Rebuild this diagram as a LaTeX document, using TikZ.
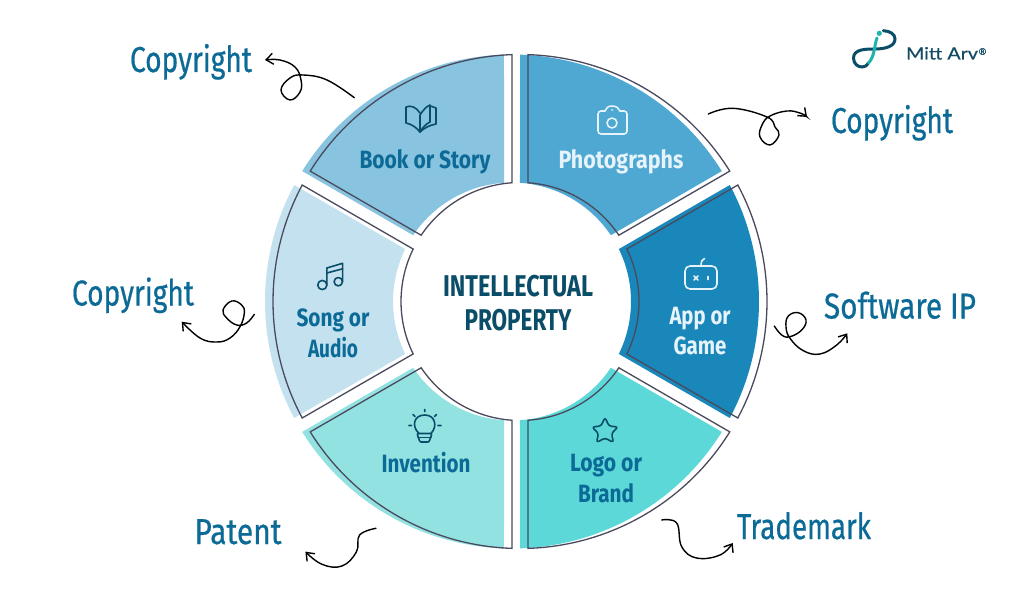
\documentclass[tikz,border=0pt]{standalone}
\usepackage{fontspec}
\usepackage{graphicx}
\usetikzlibrary{arrows.meta}
\setmainfont{Fira Sans}
\newfontfamily\tagfont[FakeBold=0.6]{Fira Sans}
\newfontfamily\logofont[FakeBold=0.5]{Lato}
\definecolor{cBook}{HTML}{88C3DF}
\definecolor{cPhoto}{HTML}{4FA8D2}
\definecolor{cApp}{HTML}{1A87BA}
\definecolor{cLogo}{HTML}{5CD8D8}
\definecolor{cInv}{HTML}{93E2E2}
\definecolor{cSong}{HTML}{C4E1F0}
\definecolor{cEdge}{HTML}{4A4A5E}
\definecolor{cText}{HTML}{0B6A96}
\definecolor{cDark}{HTML}{0A4D68}
\definecolor{cLight}{HTML}{E6F3FA}
\definecolor{cLogoText}{HTML}{124B63}
\definecolor{cTeal}{HTML}{20B5AC}
\newcommand\fw[2]{\resizebox{#1pt}{\height}{#2}}
\newcommand\ringpath[1]{%
  (#1-28.14:247) arc[start angle=#1-28.14,end angle=#1+28.14,radius=247]
  -- (#1+26.15:119) arc[start angle=#1+26.15,end angle=#1-26.15,radius=119] -- cycle}
\tikzset{
  edge/.style={draw=cEdge,line width=1.3pt,line join=miter},
  tag/.style={inner sep=0pt,anchor=base,text=cText,font=\tagfont\fontsize{36}{36}\selectfont},
  lab/.style={inner sep=0pt,anchor=base,font=\bfseries\fontsize{25}{25}\selectfont},
  centre/.style={inner sep=0pt,anchor=base,text=cDark,font=\bfseries\fontsize{30}{30}\selectfont},
  squig/.style={draw=black,line width=1.4pt,line cap=round,-{Straight Barb[length=7pt,width=11pt,line width=1.4pt]}},
  ico/.style={line width=1.6pt,line cap=round,line join=round},
}
\begin{document}
\begin{tikzpicture}[x=1pt,y=-1pt]
\useasboundingbox (0,0) rectangle (1024,602);
\fill[white] (0,0) rectangle (1024,602);
\begin{scope}[shift={(520,301.5)},x=1pt,y=1pt]
  \begin{scope}[xshift=-8pt]
    \fill[cPhoto] \ringpath{60};
    \fill[cApp] \ringpath{0};
    \fill[cLogo] \ringpath{-60};
    \fill[cInv] \ringpath{-120};
    \fill[cSong] \ringpath{180};
    \fill[cBook] \ringpath{120};
  \end{scope}
  \foreach \m in {60,0,-60,-120,180,120}{\draw[edge] \ringpath{\m};}
\end{scope}

% centre
\node[centre] (c1) at (518,296) {\fw{150}{INTELLECTUAL}};
\node[centre] (c2) at (518,330) {\fw{107}{PROPERTY}};

% segment labels
\node[lab,text=cText] (l1) at (425,168.5) {\fw{131}{Book or Story}};
\node[lab,text=cLight] (l2) at (621,168.5) {\fw{125}{Photographs}};
\node[lab,text=cLight] (l3a) at (700,324) {\fw{61}{App or}};
\node[lab,text=cLight] (l3b) at (700,354.5) {\fw{53}{Game}};
\node[lab,text=cText] (l4a) at (606,471.5) {\fw{72}{Logo or}};
\node[lab,text=cText] (l4b) at (606,502) {\fw{56}{Brand}};
\node[lab,text=cText] (l5) at (426,472) {\fw{89}{Invention}};
\node[lab,text=cText] (l6a) at (333,326) {\fw{73}{Song or}};
\node[lab,text=cText] (l6b) at (333,357) {\fw{50}{Audio}};

% outer tags
\node[tag] (t1) at (191,72) {\fw{122}{Copyright}};
\node[tag] (t2) at (892,133) {\fw{122}{Copyright}};
\node[tag] (t3) at (133,305.5) {\fw{122}{Copyright}};
\node[tag] (t4) at (900,318.5) {\fw{152}{Software IP}};
\node[tag] (t5) at (238,544) {\fw{87}{Patent}};
\node[tag] (t6) at (804,539) {\fw{134}{Trademark}};

% squiggle ends
\coordinate (s1) at (354.3,97.7); \coordinate (e1) at (265,60);
\coordinate (s2) at (708.3,114);  \coordinate (e2) at (807,117);
\coordinate (s3) at (254.3,314.3);\coordinate (e3) at (181.7,321.7);
\coordinate (s4) at (774.3,326);  \coordinate (e4) at (847.3,333.3);
\coordinate (s5) at (376,528.3);  \coordinate (e5) at (305.4,551.7);
\coordinate (s6) at (661.7,520);  \coordinate (e6) at (732.7,543);
\draw[squig] plot[smooth,tension=0.7] coordinates {(s1) (327,80) (303,75) (290,78) (281,90) (290,100) (300,92) (301,80) (295,67) (280,60) (e1)};
\draw[squig] plot[smooth,tension=0.7] coordinates {(s2) (733,108.3) (767,117) (775,127) (779,135) (770,145) (760,137) (762,125) (770,116) (787,111) (800,113) (e2)};
\draw[squig] plot[smooth,tension=0.7] coordinates {(s3) (246.7,323) (236.7,325) (226.7,318) (223,310) (231.7,301) (241.7,305) (244.3,313) (240,326.7) (230,338) (216.7,342) (200,338) (e3)};
\draw[squig] plot[smooth,tension=0.7] coordinates {(s4) (781.7,335) (790,336.7) (801.7,330) (806,320) (798.3,312.7) (788.3,316) (786,326.7) (790,338.3) (803.3,350.7) (820,354) (836.7,345) (e4)};
\draw[squig] plot[smooth,tension=0.7] coordinates {(s5) (359.6,535) (356.5,551.7) (342,566) (322,564.3) (e5)};
\draw[squig] plot[smooth,tension=0.7] coordinates {(s6) (676.7,523) (681.7,546.7) (696.7,558) (720,555) (e6)};

% book icon
\begin{scope}[ico,draw=cDark]
  \draw (420,113) .. controls (416,107) and (411,105) .. (406,107) -- (406,123) .. controls (411,124) and (416,127) .. (420,132);
  \draw (420,132) .. controls (424,128) and (430,125) .. (436,124) -- (436,108) -- (430.5,106);
  \draw (420,132) -- (420,115) .. controls (423,110) and (427,106) .. (430,105) -- (430,122) .. controls (426,124) and (423,127) .. (420,132);
\end{scope}
% camera icon
\begin{scope}[ico,draw=cLight]
  \draw[rounded corners=3pt] (605,111) -- (598,111) -- (598,134) -- (627,134) -- (627,111) -- (620,111);
  \draw (605,111) .. controls (606,108) and (608,106) .. (612,106) .. controls (616,106) and (619,108) .. (620,111);
  \draw (612,123) circle[radius=5];
  \fill[cLight] (612,110) circle[radius=1];
\end{scope}
% robot icon
\begin{scope}[ico,draw=cLight]
  \draw[rounded corners=5pt] (685,266) rectangle (717,289);
  \draw (701,266) .. controls (701,262) and (702,259) .. (704.5,258.5);
  \draw (694,276) -- (698,280) (698,276) -- (694,280) (708,276.5) -- (708,279.5);
\end{scope}
% star icon
\begin{scope}[ico,draw=cDark]
  \draw[rounded corners=2.5pt] (605,417.5) -- (609,426) -- (618,427) -- (611.5,433.5) -- (613.5,442.5) -- (605,438) -- (596.5,442.5) -- (598.5,433.5) -- (592,427) -- (601,426) -- cycle;
\end{scope}
% bulb icon
\begin{scope}[ico,draw=cDark]
  \draw (419,433.5) .. controls (411,426) and (414,415) .. (424.7,415) .. controls (435,415) and (438,426) .. (431,433.5);
  \draw[rounded corners=1pt] (417,433.5) -- (432,433.5) -- (429,442) -- (420,442) -- cycle;
  \draw (418,437.5) -- (431,437.5);
  \draw (424.7,409.5) -- (424.7,411.5) (409,425.5) -- (411.5,425.5) (438,425.5) -- (441,425.5)
        (413,414.5) -- (415,416.5) (436.5,414.5) -- (434.5,416.5);
\end{scope}
% music icon
\begin{scope}[ico,draw=cDark]
  \draw (322.3,285) circle[radius=4.6];
  \draw (338.3,281.7) circle[radius=4.2];
  \draw (326.8,285) -- (326.8,268) -- (342.6,263.3) -- (342.6,281.7);
  \draw (326.8,273) -- (342.6,268.8);
\end{scope}

% logo
\draw[cDark,line width=3pt,line cap=round] (883.3,30.7) .. controls (890,31) and (895,34) .. (895,39) .. controls (895,46) and (886,49) .. (875,49) .. controls (866,49) and (853.5,49) .. (853.5,58) .. controls (853.5,64) and (858,67) .. (862,67) .. controls (865,67) and (867,65.5) .. (868.5,63);
\draw[cTeal,line width=3pt,line cap=round] (877,38) .. controls (874,46) and (875,56) .. (868.5,63);
\fill[cTeal] (879.3,33.3) circle[radius=2.6];
\node[inner sep=0pt,anchor=base,text=cLogoText,font=\logofont\fontsize{17}{17}\selectfont] (m1) at (942,59.5) {\fw{72}{Mitt Arv}};
\node[inner sep=0pt,text=cLogoText,font=\logofont\fontsize{9}{9}\selectfont] (m2) at (982.5,51.5) {®};
\end{tikzpicture}
\end{document}
